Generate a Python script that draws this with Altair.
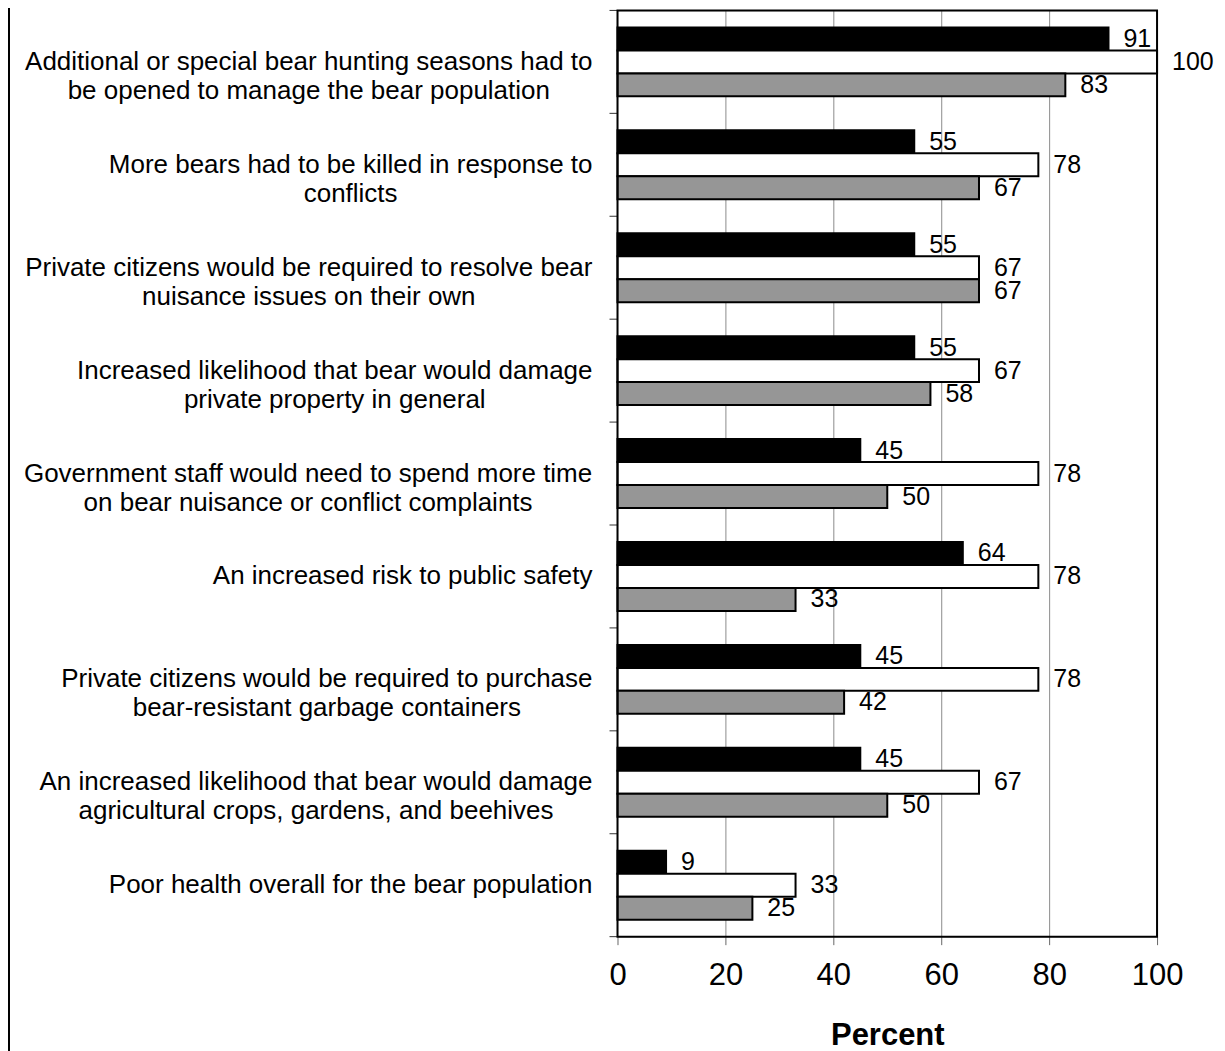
import altair as alt
import pandas as pd

categories = [
    "Additional or special bear hunting seasons had to|be opened to manage the bear population",
    "More bears had to be killed in response to|conflicts",
    "Private citizens would be required to resolve bear|nuisance issues on their own",
    "Increased likelihood that bear would damage|private property in general",
    "Government staff would need to spend more time|on bear nuisance or conflict complaints",
    "An increased risk to public safety",
    "Private citizens would be required to purchase|bear-resistant garbage containers",
    "An increased likelihood that bear would damage|agricultural crops, gardens, and beehives",
    "Poor health overall for the bear population",
]
series = ["Group 1", "Group 2", "Group 3"]
group1 = [91, 55, 55, 55, 45, 64, 45, 45, 9]
group2 = [100, 78, 67, 67, 78, 78, 78, 67, 33]
group3 = [83, 67, 67, 58, 50, 33, 42, 50, 25]
series_colors = ["#000000", "#ffffff", "#969696"]
x_ticks = [0, 20, 40, 60, 80, 100]
boundaries = list(range(10))

W, H = 540, 927
FONT = "Liberation Sans"
LABEL_SIZE = 26

# Arial / Liberation Sans advance widths (per 1000 em) for centring two-line labels
CW = {' ': 278, 'a': 556, 'b': 556, 'c': 500, 'd': 556, 'e': 556, 'f': 278, 'g': 556,
      'h': 556, 'i': 222, 'j': 222, 'k': 500, 'l': 222, 'm': 833, 'n': 556, 'o': 556,
      'p': 556, 'q': 556, 'r': 333, 's': 500, 't': 278, 'u': 556, 'v': 500, 'w': 722,
      'x': 500, 'y': 500, 'z': 500, 'A': 667, 'G': 778, 'I': 278, 'M': 833, 'P': 667,
      ',': 278, '-': 333, '.': 278}


def text_width(s, size):
    return sum(CW.get(ch, 556) for ch in s) * size / 1000.0


rows = []
for i, c in enumerate(categories):
    for s, vals in zip(series, [group1, group2, group3]):
        rows.append({"category": c, "series": s, "value": vals[i]})
df = pd.DataFrame(rows)

lab_rows = []
for c in categories:
    maxw = max(text_width(part, LABEL_SIZE) for part in c.split("|"))
    center_px = -25 - maxw / 2.0
    lab_rows.append({"category": c, "lx": center_px / (W / 100.0)})
labels_df = pd.DataFrame(lab_rows)

bnd_df = pd.DataFrame({"b": boundaries})
one_df = pd.DataFrame({"k": [0]})

x_axis = alt.Axis(
    values=x_ticks, grid=True, gridColor="#8c8c8c", gridWidth=1,
    gridOpacity={"condition": {"test": "datum.value == 0 || datum.value == 100", "value": 0}, "value": 1},
    domain=False, tickSize=8, tickColor="#666666", tickWidth=1,
    labelFontSize=31, labelFont=FONT, labelColor="black", labelPadding=16, labelFlush=False,
    title="Percent", titleFontSize=31, titleFont=FONT, titleFontWeight="bold",
    titleColor="black", titlePadding=30,
)
x_scale = alt.Scale(domain=[0, 100], nice=False, zero=True)
y_band = alt.Y("category:N", sort=categories,
               scale=alt.Scale(paddingInner=0.33, paddingOuter=0.165), axis=None)
y_off = alt.YOffset("series:N", sort=series, scale=alt.Scale(paddingInner=0, paddingOuter=0))

bars = alt.Chart(df).mark_bar(stroke="black", strokeWidth=2).encode(
    y=y_band,
    yOffset=y_off,
    x=alt.X("value:Q", scale=x_scale, axis=x_axis),
    color=alt.Color("series:N", scale=alt.Scale(domain=series, range=series_colors), legend=None),
)

values_text = alt.Chart(df).mark_text(
    align="left", baseline="middle", dx=15, fontSize=25, font=FONT, color="black"
).encode(
    y=y_band,
    yOffset=y_off,
    x=alt.X("value:Q", scale=x_scale, axis=x_axis),
    text=alt.Text("value:Q"),
)

cat_labels = alt.Chart(labels_df).mark_text(
    align="center", baseline="middle", fontSize=LABEL_SIZE, font=FONT, color="black",
    lineBreak="|", lineHeight=29,
).encode(
    y=y_band,
    x=alt.X("lx:Q", scale=x_scale, axis=x_axis),
    text=alt.Text("category:N"),
)

ticks = alt.Chart(bnd_df).mark_rule(color="#333333", strokeWidth=1).encode(
    y=alt.Y("b:Q", scale=alt.Scale(domain=[0, 9], nice=False), axis=None),
    x=alt.value(-8),
    x2=alt.value(0),
)

frame = alt.Chart(one_df).mark_rect(
    fillOpacity=0, stroke="black", strokeWidth=2
).encode(
    x=alt.value(0), x2=alt.value(W), y=alt.value(0), y2=alt.value(H),
)

border = alt.Chart(one_df).mark_rule(color="black", strokeWidth=2).encode(
    x=alt.value(-609),
    y=alt.value(-12),
    y2=alt.value(1045),
)

chart = alt.layer(bars, values_text, cat_labels, ticks, frame, border).resolve_scale(
    y="independent"
).properties(
    width=W, height=H,
    padding={"left": 610, "top": 2, "right": 60, "bottom": 114},
    autosize=alt.AutoSizeParams(type="none"),
).configure_view(
    stroke=None
).configure(font=FONT)

chart.save("out.html", embed_options={"renderer": "svg", "actions": False})
